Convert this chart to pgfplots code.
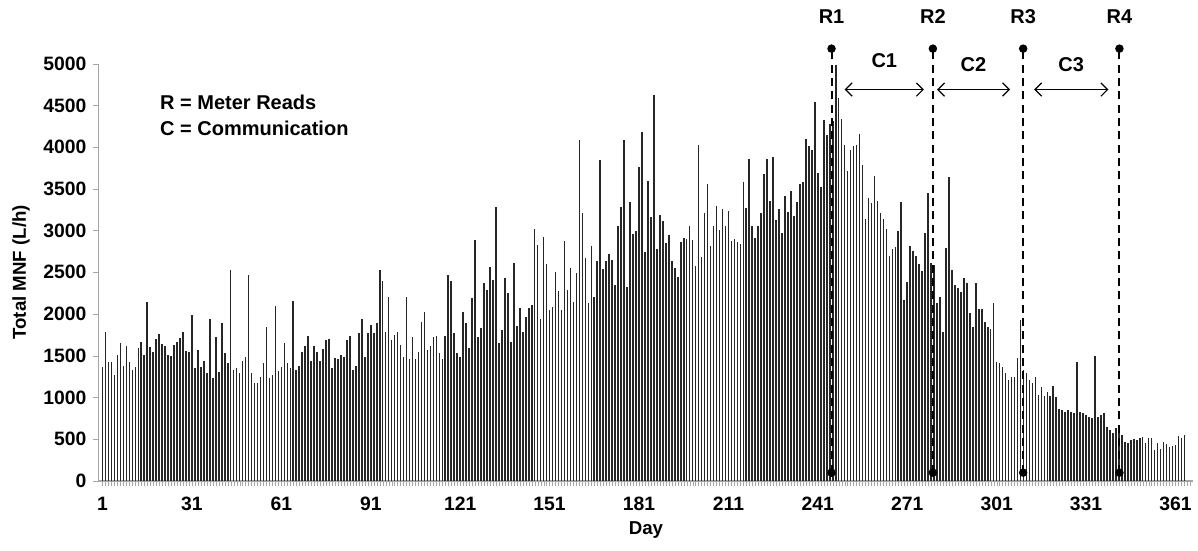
\documentclass[border=0pt]{standalone}
\usepackage{pgfplots}
\pgfplotsset{compat=1.18}
\usetikzlibrary{arrows.meta}
\usepackage{fontspec}
\setmainfont{Liberation Sans}
\begin{document}
\fontsize{15}{17}\selectfont\bfseries
\begin{tikzpicture}
\begin{axis}[
  scale only axis, width=821pt, height=313pt,
  xmin=-0.3, xmax=367, ymin=0, ymax=5000,
  clip=false,
  axis lines=left, axis line style={-, gray!70, line width=0.8pt},
  xtick={1,31,...,361}, minor xtick={1,2,...,366},
  ytick={0,500,...,5000},
  tick style={gray!70}, tick align=outside,
  major tick length=4pt, minor tick length=4pt,
  /pgf/number format/assume math mode=true,
  /pgf/number format/1000 sep={},
  ticklabel style={font=\fontsize{14.5}{17}\selectfont\bfseries},
  xticklabel style={yshift=-3pt},
  xlabel={Day}, ylabel={Total MNF (L/h)},
  label style={font=\fontsize{14}{17}\selectfont\bfseries},
  xlabel style={yshift=2pt},
  ylabel style={yshift=0pt},
]
\addplot[ycomb, black!85, line width=1.2pt] table[x expr=\coordindex+1, y index=0] {
v
1371
1790
1430
1430
1270
1510
1650
1380
1620
1430
1330
1370
1590
1660
1510
2140
1600
1540
1700
1760
1640
1620
1510
1500
1630
1670
1710
1780
1560
1550
1990
1350
1570
1360
1440
1290
1940
1240
1720
1310
1890
1530
1410
2530
1330
1350
1290
1440
1490
2470
1290
1180
1180
1250
1410
1850
1230
1270
2100
1320
1370
1650
1410
1350
2160
1330
1380
1540
1620
1740
1440
1620
1540
1440
1580
1690
1700
1350
1470
1460
1510
1490
1690
1740
1330
1380
1770
1940
1490
1770
1870
1770
1890
2530
2400
1780
2200
1690
1750
1790
1630
1480
2200
1460
1720
1460
1550
1910
2020
1570
1620
1730
1740
1530
1460
1740
2470
2400
1775
1530
1490
2030
1890
1590
2190
2890
1730
1830
2370
2290
2560
2410
3280
1650
1810
2430
2250
1660
2610
1860
2070
1780
1970
2070
2110
3020
2830
1940
2920
2600
2050
2090
2510
2280
2050
2870
2290
2550
2150
2490
4080
3210
2670
2130
2810
2210
2640
3840
2540
2640
2720
2650
2350
3050
3280
4080
2330
3340
2960
2990
3760
4180
2740
3590
3160
4620
2780
3190
3110
2850
2950
2640
2550
2450
2860
2910
2900
3060
2890
2570
4020
2680
3210
3560
2810
3060
3290
3010
3260
3050
3240
2880
2900
2860
2840
3580
3270
3860
3060
2910
3060
3210
3680
3860
3350
3880
3130
3260
2970
3420
3220
3480
3170
3340
3560
3580
4100
4010
3970
4540
3690
3520
4330
4140
4280
4310
4990
4590
4340
4030
3710
3960
4010
4020
4160
3790
3140
3390
3330
3660
3360
3210
3140
3020
2700
2780
2800
3000
3340
2170
2380
2820
2750
2690
2600
2520
2970
3450
2610
2590
2130
2210
1790
2790
3640
2530
2350
2310
2260
2430
2370
2010
1850
2370
2060
2060
1900
1850
1820
2130
1420
1410
1370
1290
1210
1250
1250
1470
1930
1330
1290
1210
1170
1250
1030
1130
1020
1070
1020
1140
1010
860
850
830
850
830
820
1420
830
810
790
770
750
1500
770
790
810
650
610
570
630
630
550
470
450
490
500
490
510
530
450
510
520
370
460
380
470
440
410
420
430
540
510
550
};
\foreach \d/\n in {245.6/R1,279.6/R2,309.9/R3,342.2/R4}{
  \edef\tmp{\noexpand\draw[black, line width=1.5pt, dash pattern=on 6pt off 4pt] (axis cs:\d,100) -- (axis cs:\d,5180);
  \noexpand\fill[black] (axis cs:\d,100) circle (3.2pt);
  \noexpand\fill[black] (axis cs:\d,5180) circle (3.2pt);
  \noexpand\node[anchor=base] at (axis cs:\d,5480) {\n};}
  \tmp
}
\tikzset{carr/.style={{Straight Barb[length=5pt,width=10pt]}-{Straight Barb[length=5pt,width=10pt]}, line width=0.9pt}}
\draw[carr] (axis cs:250,4690) -- (axis cs:276.6,4690);
\draw[carr] (axis cs:281,4690) -- (axis cs:305.5,4690);
\draw[carr] (axis cs:313.6,4690) -- (axis cs:338.5,4690);
\node[anchor=base] at (axis cs:263.3,4960) {C1};
\node[anchor=base] at (axis cs:293.2,4910) {C2};
\node[anchor=base] at (axis cs:326,4910) {C3};
\node[anchor=west] at (axis cs:18,4540) {R = Meter Reads};
\node[anchor=west] at (axis cs:18,4220) {C = Communication};
\coordinate (O) at (rel axis cs:0,0);
\end{axis}
\pgfresetboundingbox
\path (O) ++(-74pt,-51.75pt) rectangle ++(898.5pt,412.5pt);
\end{tikzpicture}
\end{document}
